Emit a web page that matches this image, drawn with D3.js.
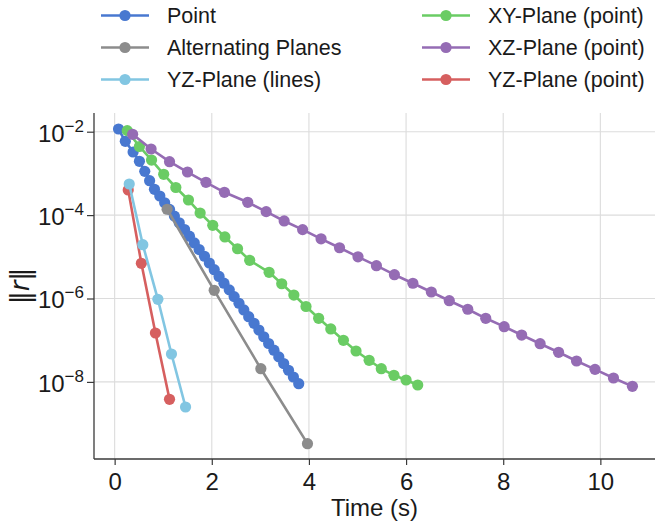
<!DOCTYPE html>
<html>
<head>
<meta charset="utf-8">
<script src="https://cdn.jsdelivr.net/npm/d3@7"></script>
<style>
  html, body { margin: 0; padding: 0; background: #ffffff; }
  svg { display: block; }
  text { font-family: "Liberation Sans", "DejaVu Sans", sans-serif; fill: #1a1a1a; }
</style>
</head>
<body>
<svg id="chart" width="657" height="524"></svg>
<script>
// Residual norm vs. simulated time for each relaxation strategy.
const seriesNames = ["Point", "Alternating Planes", "YZ-Plane (lines)",
                     "XY-Plane (point)", "XZ-Plane (point)", "YZ-Plane (point)"];

const pointTime = [0.08, 0.22, 0.38, 0.51, 0.62, 0.72, 0.82, 0.93, 1.03, 1.13, 1.23, 1.33,
                   1.44, 1.54, 1.64, 1.74, 1.85, 1.95, 2.05, 2.15, 2.25, 2.36, 2.46, 2.56,
                   2.66, 2.76, 2.87, 2.97, 3.07, 3.17, 3.28, 3.38, 3.48, 3.58, 3.68, 3.79];
const pointResidual = [1.16e-2, 5.89e-3, 3.26e-3, 1.95e-3, 1.12e-3, 6.68e-4, 4.16e-4, 2.87e-4,
                       1.98e-4, 1.37e-4, 9.46e-5, 6.53e-5, 4.51e-5, 3.12e-5, 2.15e-5, 1.49e-5,
                       1.03e-5, 7.10e-6, 4.90e-6, 3.38e-6, 2.33e-6, 1.61e-6, 1.11e-6, 7.69e-7,
                       5.31e-7, 3.66e-7, 2.54e-7, 1.75e-7, 1.21e-7, 8.34e-8, 5.75e-8, 3.98e-8,
                       2.75e-8, 1.90e-8, 1.31e-8, 9.06e-9];

const altTime = [1.08, 2.05, 3.01, 3.97];
const altResidual = [1.38e-4, 1.57e-6, 2.07e-8, 3.30e-10];

const yzLinesTime = [0.30, 0.58, 0.89, 1.17, 1.46];
const yzLinesResidual = [5.57e-4, 1.95e-5, 9.57e-7, 4.67e-8, 2.50e-9];

const xyTime = [0.26, 0.51, 0.76, 1.01, 1.26, 1.52, 1.76, 2.02, 2.27, 2.53, 2.78, 3.18,
                3.44, 3.69, 3.94, 4.20, 4.45, 4.71, 4.97, 5.24, 5.49, 5.75, 6.00, 6.24];
const xyResidual = [1.06e-2, 4.42e-3, 2.09e-3, 9.51e-4, 4.59e-4, 2.30e-4, 1.12e-4, 5.69e-5,
                    2.99e-5, 1.56e-5, 8.24e-6, 4.25e-6, 2.26e-6, 1.21e-6, 6.43e-7, 3.35e-7,
                    1.86e-7, 9.95e-8, 5.51e-8, 3.30e-8, 2.07e-8, 1.44e-8, 1.11e-8, 8.43e-9];

const xzTime = [0.37, 0.75, 1.13, 1.50, 1.88, 2.26, 2.74, 3.12, 3.49, 3.87, 4.25, 4.63, 5.01, 5.39,
                5.76, 6.14, 6.52, 6.89, 7.27, 7.64, 8.02, 8.38, 8.76, 9.14, 9.51, 9.89, 10.27, 10.66];
const xzResidual = [8.67e-3, 3.85e-3, 1.91e-3, 1.08e-3, 6.12e-4, 3.52e-4, 2.03e-4, 1.21e-4,
                    7.23e-5, 4.49e-5, 2.70e-5, 1.65e-5, 1.00e-5, 6.12e-6, 3.72e-6, 2.32e-6,
                    1.43e-6, 8.85e-7, 5.53e-7, 3.35e-7, 2.11e-7, 1.33e-7, 8.24e-8, 5.13e-8,
                    3.17e-8, 2.00e-8, 1.24e-8, 7.83e-9];

const yzPointTime = [0.28, 0.55, 0.84, 1.13];
const yzPointResidual = [4.00e-4, 6.98e-6, 1.49e-7, 3.83e-9];

const xTicks = [0, 2, 4, 6, 8, 10];
const yTicks = [1e-2, 1e-4, 1e-6, 1e-8];

const palette = ["#4878d0", "#8c8c8c", "#82c6e2", "#6acc64", "#956cb4", "#d65f5f"];

const series = [
  { name: seriesNames[0], color: palette[0], t: pointTime,   r: pointResidual },
  { name: seriesNames[1], color: palette[1], t: altTime,     r: altResidual },
  { name: seriesNames[2], color: palette[2], t: yzLinesTime, r: yzLinesResidual },
  { name: seriesNames[3], color: palette[3], t: xyTime,      r: xyResidual },
  { name: seriesNames[4], color: palette[4], t: xzTime,      r: xzResidual },
  { name: seriesNames[5], color: palette[5], t: yzPointTime, r: yzPointResidual }
];
// stacking order of the curves (last drawn on top)
const drawOrder = [0, 1, 3, 4, 5, 2];

const svg = d3.select("#chart");
const plot = { left: 94, right: 655, top: 113, bottom: 459 };

const x = d3.scaleLinear().domain([-0.425, 11.125]).range([plot.left, plot.right]);
const y = d3.scaleLog().domain([Math.pow(10, -9.849), Math.pow(10, -1.5516)])
  .range([plot.bottom, plot.top]);

// grid
const grid = svg.append("g");
grid.selectAll("line.gx").data(xTicks).join("line")
  .attr("x1", d => x(d)).attr("x2", d => x(d))
  .attr("y1", plot.top).attr("y2", plot.bottom)
  .attr("stroke", "#dcdcdc").attr("stroke-width", 1.1);
grid.selectAll("line.gy").data(yTicks).join("line")
  .attr("x1", plot.left).attr("x2", plot.right)
  .attr("y1", d => y(d)).attr("y2", d => y(d))
  .attr("stroke", "#dcdcdc").attr("stroke-width", 1.1);

// axes
const xAxis = d3.axisBottom(x).tickValues(xTicks).tickSize(6).tickPadding(8)
  .tickFormat(d3.format("d"));
const gx = svg.append("g").attr("transform", `translate(0,${plot.bottom})`).call(xAxis);
gx.select(".domain").attr("d", `M${plot.left},0H${plot.right}`)
  .attr("stroke", "#3a3a3a").attr("stroke-width", 1.3);
gx.selectAll(".tick line").attr("stroke", "#3a3a3a").attr("stroke-width", 1.2);
gx.selectAll(".tick text")
  .attr("font-size", 24).attr("fill", "#1a1a1a").attr("dy", "0.72em");

const yAxis = d3.axisLeft(y).tickValues(yTicks).tickSize(7).tickFormat("");
const gy = svg.append("g").attr("transform", `translate(${plot.left},0)`).call(yAxis);
gy.select(".domain").attr("d", `M0,${plot.top}V${plot.bottom}`)
  .attr("stroke", "#3a3a3a").attr("stroke-width", 1.3);
gy.selectAll(".tick line").attr("stroke", "#3a3a3a").attr("stroke-width", 1.2);
gy.selectAll(".tick").each(function (d) {
  const exp = Math.round(Math.log10(d));
  const t = d3.select(this).append("text")
    .attr("x", -10).attr("y", 9.5)
    .attr("text-anchor", "end")
    .attr("font-size", 24).attr("fill", "#1a1a1a");
  t.append("tspan").text("10");
  t.append("tspan").attr("dy", -10).attr("font-size", 17).text("\u2212" + Math.abs(exp));
});

// axis titles
svg.append("text").attr("x", (plot.left + plot.right) / 2).attr("y", 516)
  .attr("text-anchor", "middle").attr("font-size", 24).text("Time (s)");

const yl = svg.append("text")
  .attr("transform", `translate(29,${(plot.top + plot.bottom) / 2}) rotate(-90)`)
  .attr("text-anchor", "middle").attr("font-size", 26)
  .style("font-family", "'DejaVu Sans', sans-serif");
yl.append("tspan").text("\u2016");
yl.append("tspan").attr("font-style", "italic").text("r");
yl.append("tspan").text("\u2016");

// curves
const line = d3.line().x(d => x(d[0])).y(d => y(d[1]));
const curves = svg.append("g");
drawOrder.forEach(i => {
  const s = series[i];
  const pts = s.t.map((t, k) => [t, s.r[k]]);
  const g = curves.append("g");
  g.append("path").datum(pts).attr("d", line)
    .attr("fill", "none").attr("stroke", s.color).attr("stroke-width", 2.6)
    .attr("stroke-linejoin", "round").attr("stroke-linecap", "round");
  g.selectAll("circle").data(pts).join("circle")
    .attr("cx", d => x(d[0])).attr("cy", d => y(d[1])).attr("r", 5.6)
    .attr("fill", s.color);
});

// legend: two columns of three entries
const legendCols = [101, 422];
const legendRows = [15.5, 47.5, 79.5];
const legend = svg.append("g");
series.forEach((s, i) => {
  const cx = legendCols[Math.floor(i / 3)];
  const cy = legendRows[i % 3];
  const g = legend.append("g").attr("transform", `translate(${cx},${cy})`);
  g.append("line").attr("x1", 0).attr("x2", 48).attr("y1", 0).attr("y2", 0)
    .attr("stroke", s.color).attr("stroke-width", 2.6);
  g.append("circle").attr("cx", 24).attr("cy", 0).attr("r", 5.6).attr("fill", s.color);
  g.append("text").attr("x", 66).attr("y", 0).attr("dy", "0.34em")
    .attr("font-size", 21.5).text(s.name);
});
</script>
</body>
</html>
